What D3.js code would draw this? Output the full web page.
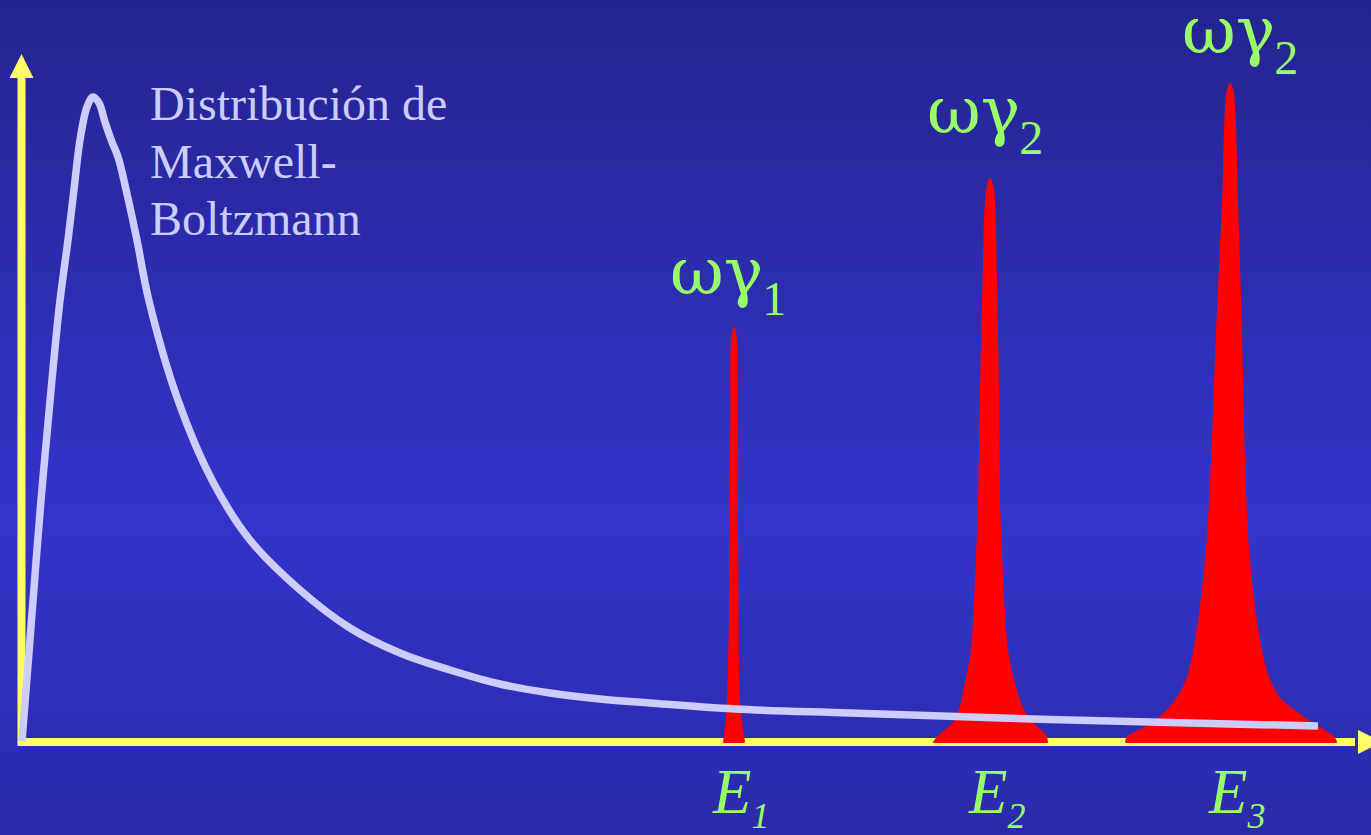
<!DOCTYPE html>
<html>
<head>
<meta charset="utf-8">
<script src="https://cdn.jsdelivr.net/npm/d3@7/dist/d3.min.js"></script>
<style>
  html, body { margin: 0; padding: 0; overflow: hidden; }
  svg { display: block; }
</style>
</head>
<body>
<svg id="chart" width="1371" height="835"></svg>
<script>
// Maxwell-Boltzmann energy distribution (energy, population), arbitrary units
const mbEnergy = [0, 0.59, 1.41, 2.22, 2.82, 3.41, 3.85, 4.30, 4.82, 5.26, 5.71, 6.15, 6.67, 7.12, 7.72,
  8.52, 9.40, 11.56, 14.08, 16.90, 20.61, 24.31, 28.02, 31.73, 35.43, 39.14, 42.85, 46.55, 52.85,
  61.38, 72.50, 83.62, 96.07];
const mbValue = [0.15, 14.83, 35.17, 52.62, 64.24, 72.97, 80.23, 87.50, 92.30, 93.75, 92.88, 90.12, 87.21,
  85.03, 80.23, 72.97, 64.24, 49.71, 38.08, 29.36, 22.09, 16.57, 12.94, 10.47, 8.43, 7.12, 6.25, 5.67,
  4.80, 4.22, 3.49, 2.91, 2.33];

// Resonance lines: outline of each peak (energy, intensity), left foot -> apex -> right foot
const peakE1Energy = [52.04, 52.24, 52.36, 52.48, 52.54, 52.58, 52.63, 52.78, 52.93, 52.98, 53.00, 53.05, 53.10, 53.28, 53.52];
const peakE1Value  = [0, 3.20, 7.99, 17.73, 32.27, 46.80, 58.43, 60.17, 58.43, 46.80, 32.27, 17.73, 7.99, 3.20, 0];

const peakE2Energy = [67.61, 68.05, 69.01, 69.53, 69.90, 70.42, 70.72, 70.94, 71.09, 71.28, 71.53, 71.76,
  71.98, 72.20, 72.35, 72.43, 72.65, 73.02, 73.61, 74.20, 74.94, 75.83, 75.98];
const peakE2Value  = [0, 1.02, 2.62, 4.65, 7.99, 13.37, 23.98, 34.74, 50.87, 67.01, 80.23, 81.83,
  80.23, 67.01, 50.87, 34.74, 23.98, 13.37, 7.99, 4.65, 2.62, 1.02, 0];

const peakE3Energy = [81.84, 81.99, 83.10, 84.14, 85.62, 86.43, 87.10, 87.84, 88.21, 88.58, 89.03, 89.33, 89.55,
  89.77, 90.07, 90.36, 90.59, 90.88, 91.62, 92.37, 93.25, 95.26, 97.18, 97.41];
const peakE3Value  = [0, 0.73, 1.89, 3.20, 6.25, 9.45, 15.70, 28.20, 40.70, 59.45, 78.20, 94.04, 95.64,
  94.04, 78.20, 59.45, 40.70, 28.20, 15.70, 9.45, 6.25, 3.20, 0.73, 0];

// Peak centres and their labels
const peakCentres = [52.78, 71.76, 89.55];
const peakTops    = [60.17, 81.83, 95.64];
const levelNames  = ["E", "E", "E"];
const levelSubs   = ["1", "2", "3"];
const widthNames  = ["ωγ", "ωγ", "ωγ"];
const widthSubs   = ["1", "2", "2"];
const curveLabel  = ["Distribución de", "Maxwell-", "Boltzmann"];

// ---------------------------------------------------------------------------
const W = 1371, H = 835;
const svg = d3.select("#chart");

const x = d3.scaleLinear().domain([0, 100]).range([22, 1371]);
const y = d3.scaleLinear().domain([0, 100]).range([742, 54]);

// background
const defs = svg.append("defs");
const grad = defs.append("linearGradient").attr("id", "bg")
  .attr("x1", 0).attr("y1", 0).attr("x2", 0).attr("y2", 1);
grad.append("stop").attr("offset", "0%").attr("stop-color", "#24248f");
grad.append("stop").attr("offset", "62%").attr("stop-color", "#3434cb");
grad.append("stop").attr("offset", "100%").attr("stop-color", "#2a2aa9");
svg.append("rect").attr("width", W).attr("height", H).attr("fill", "url(#bg)");

// axes with arrow heads
const axisColor = "#ffff66";
const axes = svg.append("g");
axes.append("line")
  .attr("x1", x(0) - 0.5).attr("x2", x(0) - 0.5)
  .attr("y1", y(0) + 4).attr("y2", y(100) + 20)
  .attr("stroke", axisColor).attr("stroke-width", 8);
axes.append("path")
  .attr("d", `M${x(0) - 12.5},${y(100) + 24} L${x(0) - 0.5},${y(100)} L${x(0) + 11.5},${y(100) + 24} Z`)
  .attr("fill", axisColor);
axes.append("line")
  .attr("x1", x(0)).attr("x2", x(100) - 16)
  .attr("y1", y(0)).attr("y2", y(0))
  .attr("stroke", axisColor).attr("stroke-width", 8);
axes.append("path")
  .attr("d", `M${x(100) - 13},${y(0) - 12} L${x(100) + 11},${y(0)} L${x(100) - 13},${y(0) + 12} Z`)
  .attr("fill", axisColor);

// resonance peaks
const peakLine = d3.line()
  .x(d => x(d[0])).y(d => y(d[1]))
  .curve(d3.curveCatmullRom.alpha(0.5));
const peaks = [
  d3.zip(peakE1Energy, peakE1Value),
  d3.zip(peakE2Energy, peakE2Value),
  d3.zip(peakE3Energy, peakE3Value)
];
svg.append("g").selectAll("path").data(peaks).join("path")
  .attr("d", d => peakLine(d) + "Z")
  .attr("fill", "#ff0000")
  .attr("stroke", "#ff0000")
  .attr("stroke-width", 2)
  .attr("stroke-linejoin", "round");

// Maxwell-Boltzmann curve
const mbLine = d3.line()
  .x(d => x(d[0])).y(d => y(d[1]))
  .curve(d3.curveCatmullRom.alpha(0.5));
svg.append("path")
  .datum(d3.zip(mbEnergy, mbValue))
  .attr("d", mbLine)
  .attr("fill", "none")
  .attr("stroke", "#ccccff")
  .attr("stroke-width", 7.5)
  .attr("stroke-linecap", "butt")
  .attr("stroke-linejoin", "round");

// curve label
svg.append("text")
  .attr("x", 150).attr("y", 120)
  .attr("font-family", "'Liberation Serif', 'Times New Roman', serif")
  .attr("font-size", 48).attr("fill", "#ccccff")
  .selectAll("tspan").data(curveLabel).join("tspan")
  .attr("x", 150).attr("dy", (d, i) => i === 0 ? 0 : 57.5)
  .text(d => d);

// energy level labels under the axis
const green = "#99ff66";
const levels = svg.append("g")
  .attr("font-family", "'Liberation Serif', 'Times New Roman', serif")
  .attr("font-style", "italic").attr("fill", green);
peakCentres.forEach((c, i) => {
  const t = levels.append("text").attr("x", x(c) - 21).attr("y", 813);
  t.append("tspan").attr("font-size", 63).text(levelNames[i]);
  t.append("tspan").attr("font-size", 36).attr("dy", 15).text(levelSubs[i]);
});

// line-width labels above the peaks
const widthOffsets = [[-64, -34], [-63, -46], [-48, -31]];
const widths = svg.append("g").attr("fill", green);
peakCentres.forEach((c, i) => {
  const t = widths.append("text")
    .attr("x", x(c) + widthOffsets[i][0])
    .attr("y", y(peakTops[i]) + widthOffsets[i][1]);
  t.append("tspan")
    .attr("font-family", "'DejaVu Serif', serif")
    .attr("font-size", 66).text(widthNames[i]);
  t.append("tspan")
    .attr("font-family", "'Liberation Serif', 'Times New Roman', serif")
    .attr("font-size", 48).attr("dx", -1).attr("dy", 21).text(widthSubs[i]);
});
</script>
</body>
</html>
